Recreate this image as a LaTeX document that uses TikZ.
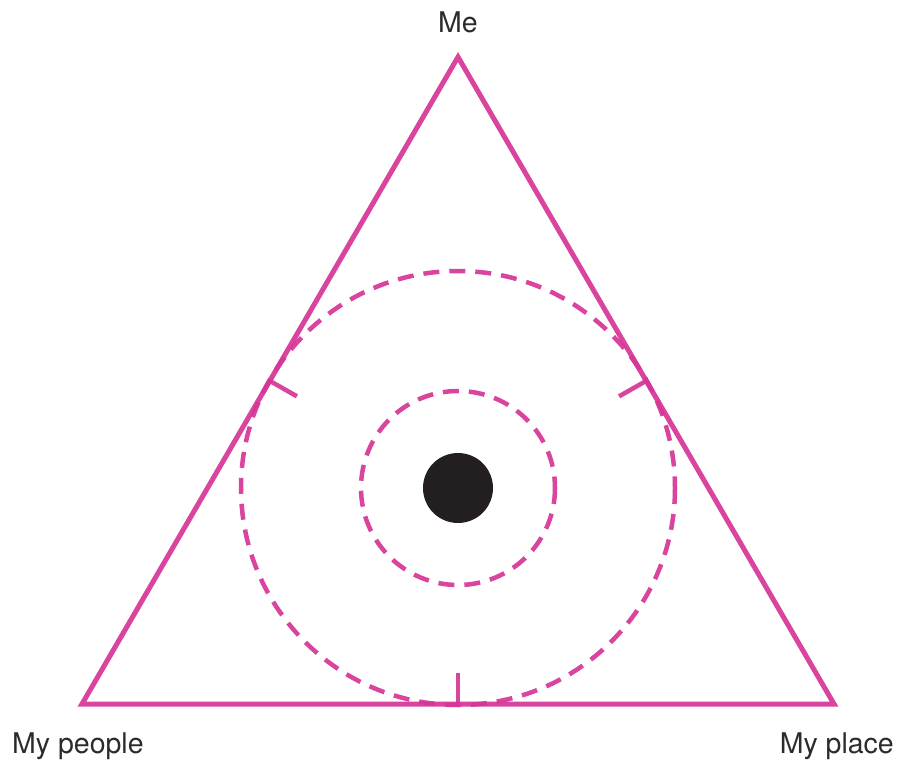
\documentclass[tikz,border=0pt]{standalone}
\usepackage{fontspec}
\setmainfont{TeX Gyre Heros}
\usetikzlibrary{calc}
\definecolor{mag}{RGB}{214,52,150}
\definecolor{txt}{RGB}{45,42,44}
\definecolor{dot}{RGB}{35,31,32}
\begin{document}
\begin{tikzpicture}[x=1pt,y=-1pt,
  edge/.style={draw=mag,line width=5pt,draw opacity=0.92,line join=miter},
  ring/.style={draw=mag,line width=4.5pt,draw opacity=0.92,dash pattern=on 16pt off 10pt},
  tick/.style={draw=mag,line width=4.5pt,draw opacity=0.92},
  lbl/.style={text=txt,font=\fontsize{28.5}{32}\selectfont,inner sep=0pt}]
\useasboundingbox (0,0) rectangle (897,760);
\coordinate (T) at (458,57);
\coordinate (L) at (82,704);
\coordinate (R) at (834,704);
\coordinate (C) at (458,488);
\draw[edge] (T) -- (L) -- (R) -- cycle;
\draw[ring] (C) circle[radius=217];
\draw[ring] (C) circle[radius=97];
\fill[dot] (C) circle[radius=35];
\coordinate (tb) at (458,704);
\coordinate (tl) at (270,381);
\coordinate (tr) at (646,381);
\draw[tick] (tb) -- ($(tb)!31pt!(C)$);
\draw[tick] (tl) -- ($(tl)!31pt!(C)$);
\draw[tick] (tr) -- ($(tr)!31pt!(C)$);
\node[lbl,anchor=base] (me) at (458,33) {Me};
\node[lbl,anchor=base west] (mp) at (12,753) {My people};
\node[lbl,anchor=base east] (pl) at (894,753) {My place};
\end{tikzpicture}
\end{document}
